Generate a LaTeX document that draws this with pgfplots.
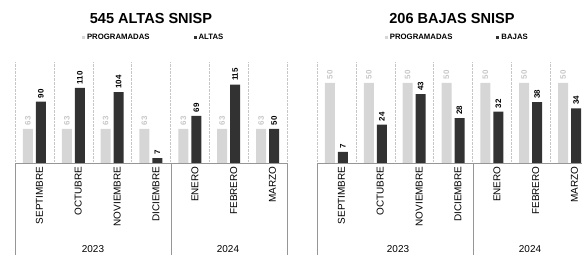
\documentclass[border=0pt]{standalone}
\usepackage{pgfplots}
\pgfplotsset{compat=1.18}
\usepackage{fontspec}
\setmainfont{Liberation Sans}
\definecolor{prog}{RGB}{214,214,214}
\definecolor{proglbl}{RGB}{200,200,200}
\definecolor{dark}{RGB}{50,50,50}
\definecolor{boxline}{RGB}{150,150,150}
\pgfplotsset{
  common/.style={
    scale only axis, width=272bp, height=101bp,
    anchor=south west,
    /pgf/number format/assume math mode=true,
    ybar=3bp, bar width=10bp,
    xmin=-0.5, xmax=6.5, ymin=0,
    axis line style={draw=none},
    ytick=\empty,
    xtick={0,...,6},
    xticklabels={SEPTIMBRE,OCTUBRE,NOVIEMBRE,DICIEMBRE,ENERO,FEBRERO,MARZO},
    major tick length=0pt, minor tick length=0pt,
    minor xtick={-0.5,0.5,...,6.5},
    xminorgrids, minor grid style={densely dotted, gray!45},
    xticklabel style={rotate=90, anchor=east, font=\fontsize{10}{10}\selectfont, yshift=-5bp},
    nodes near coords,
    every node near coord/.append style={rotate=90, anchor=west, font=\bfseries\fontsize{8}{8}\selectfont},
    legend columns=2,
    legend image code/.code={\fill[##1,draw=none] (0bp,-1.5bp) rectangle (3bp,1.5bp);},
    legend style={draw=none, fill=none, anchor=center,
      font=\bfseries\fontsize{7.8}{8}\selectfont,
      /tikz/every even column/.append style={column sep=42bp},
      /tikz/every odd column/.append style={column sep=0bp}},
    clip=false,
  }
}
\begin{document}
\begin{tikzpicture}
% Left chart
\begin{axis}[common, at={(15bp,92bp)}, ymax=148,
  legend style={at={(0.51,1.24)}}]
\addplot[fill=prog, draw=none, point meta=explicit symbolic,
  every node near coord/.append style={text=proglbl}]
  coordinates {(0,50)[63] (1,50)[63] (2,50)[63] (3,50)[63] (4,50)[63] (5,50)[63] (6,50)[63]};
\addplot[fill=dark, draw=none, every node near coord/.append style={text=black}]
  coordinates {(0,90) (1,110) (2,104) (3,7) (4,69) (5,115) (6,50)};
\legend{PROGRAMADAS,ALTAS}
\end{axis}
% Right chart
\begin{axis}[common, at={(317bp,92bp)}, ymax=63,
  legend style={at={(0.516,1.24)}}]
\addplot[fill=prog, draw=none,
  every node near coord/.append style={text=proglbl}]
  coordinates {(0,50) (1,50) (2,50) (3,50) (4,50) (5,50) (6,50)};
\addplot[fill=dark, draw=none, every node near coord/.append style={text=black}]
  coordinates {(0,7) (1,24) (2,43) (3,28) (4,32) (5,38) (6,34)};
\legend{PROGRAMADAS,BAJAS}
\end{axis}
% Titles
\node[font=\bfseries\fontsize{14.6}{15}\selectfont] at (151bp,237bp) {545 ALTAS SNISP};
\node[font=\bfseries\fontsize{14.6}{15}\selectfont] at (452bp,237bp) {206 BAJAS SNISP};
% Category boxes
\draw[boxline, line width=0.7bp] (15bp,92bp) -- (287bp,92bp);
\draw[boxline, line width=0.7bp] (15bp,92bp) -- (15bp,0bp);
\draw[boxline, line width=0.7bp] (171bp,92bp) -- (171bp,0bp);
\draw[boxline, line width=0.7bp] (287bp,92bp) -- (287bp,0bp);
\draw[boxline, line width=0.7bp] (317bp,92bp) -- (590bp,92bp);
\draw[boxline, line width=0.7bp] (317bp,92bp) -- (317bp,0bp);
\draw[boxline, line width=0.7bp] (473bp,92bp) -- (473bp,0bp);
% Years
\node[font=\fontsize{10}{10}\selectfont, anchor=base] at (93bp,3bp) {2023};
\node[font=\fontsize{10}{10}\selectfont, anchor=base] at (228bp,3bp) {2024};
\node[font=\fontsize{10}{10}\selectfont, anchor=base] at (398bp,3bp) {2023};
\node[font=\fontsize{10}{10}\selectfont, anchor=base] at (530bp,3bp) {2024};
\pgfresetboundingbox
\useasboundingbox (0bp,0bp) rectangle (582bp,255bp);
\end{tikzpicture}
\end{document}
